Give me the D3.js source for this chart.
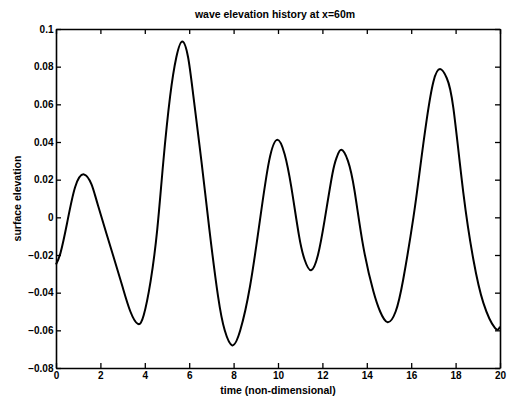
<!DOCTYPE html>
<html>
<head>
<meta charset="utf-8">
<script src="https://cdn.jsdelivr.net/npm/d3@7"></script>
<style>
  body { margin: 0; background: #fff; }
  svg text { font-family: "Liberation Sans", Arial, sans-serif; font-weight: bold; fill: #000; }
</style>
</head>
<body>
<div id="chart"></div>
<script>
// wave elevation samples
const times = [0, 0.2, 0.5, 0.86, 1.26, 1.6, 1.9, 2.58, 3.0, 3.35, 3.69, 3.95, 4.26, 4.56, 4.83, 5.14, 5.42, 5.69,
  5.95, 6.19, 6.56, 6.91, 7.3, 7.6, 7.94, 8.3, 8.74, 9.19, 9.6, 9.97, 10.3, 10.6, 10.95, 11.2, 11.49,
  11.8, 12.1, 12.45, 12.65, 12.85, 13.15, 13.45, 13.84, 14.29, 14.6, 14.94, 15.3, 15.64, 16.1, 16.4, 16.7, 17.0, 17.3,
  17.6, 17.9, 18.35, 18.8, 19.25, 19.77, 20];
const elevation = [-0.025, -0.019, -0.003, 0.016, 0.0228, 0.0175, 0.006, -0.0205, -0.037, -0.050, -0.0566, -0.052, -0.034, -0.0065, 0.029, 0.0642, 0.085, 0.0934,
  0.085, 0.0642, 0.0289, -0.0065, -0.042, -0.060, -0.068, -0.060, -0.0366, -0.0012, 0.030, 0.0412, 0.0335, 0.016, -0.010, -0.0225, -0.0281,
  -0.020, -0.0015, 0.023, 0.032, 0.0359, 0.030, 0.014, -0.0154, -0.039, -0.050, -0.0557, -0.050, -0.033, 0.000, 0.026, 0.052, 0.072, 0.0787,
  0.074, 0.058, 0.0129, -0.0224, -0.0454, -0.0587, -0.058];
const xTicks = [0, 2, 4, 6, 8, 10, 12, 14, 16, 18, 20];
const yTicks = [-0.08, -0.06, -0.04, -0.02, 0, 0.02, 0.04, 0.06, 0.08, 0.1];

const width = 519, height = 399;
const margin = { top: 29, right: 19, bottom: 31, left: 56 };

const svg = d3.select('#chart').append('svg')
  .attr('width', width)
  .attr('height', height);

const x = d3.scaleLinear().domain([0, 20]).range([margin.left, width - margin.right]);
const y = d3.scaleLinear().domain([-0.08, 0.1]).range([height - margin.bottom, margin.top]);

const yFmt = d => d === 0 ? '0' : d3.format('.2~f')(d);

// axes with inward ticks, box style
const tick = 5;
svg.append('g')
  .attr('transform', `translate(0,${y(-0.08)})`)
  .call(d3.axisBottom(x).tickValues(xTicks).tickSizeInner(-tick).tickSizeOuter(0).tickPadding(4))
  .call(g => g.selectAll('text').attr('font-size', 10));
svg.append('g')
  .attr('transform', `translate(0,${y(0.1)})`)
  .call(d3.axisTop(x).tickValues(xTicks).tickSizeInner(-tick).tickSizeOuter(0).tickFormat(''));
svg.append('g')
  .attr('transform', `translate(${x(0)},0)`)
  .call(d3.axisLeft(y).tickValues(yTicks).tickFormat(yFmt).tickSizeInner(-tick).tickSizeOuter(0).tickPadding(1))
  .call(g => g.selectAll('text').attr('font-size', 10).attr('dx', '-0.15em'));
svg.append('g')
  .attr('transform', `translate(${x(20)},0)`)
  .call(d3.axisRight(y).tickValues(yTicks).tickSizeInner(-tick).tickSizeOuter(0).tickFormat(''));

svg.selectAll('.domain').attr('stroke', '#000').attr('stroke-width', 1.6);
svg.selectAll('.tick line').attr('stroke', '#000').attr('stroke-width', 1.3);

// the elevation curve
const pts = times.map((t, i) => [t, elevation[i]]);
svg.append('path')
  .datum(pts)
  .attr('fill', 'none')
  .attr('stroke', '#000')
  .attr('stroke-width', 2)
  .attr('d', d3.line().x(d => x(d[0])).y(d => y(d[1])).curve(d3.curveNatural));

// titles
svg.append('text')
  .attr('x', (x(0) + x(20)) / 2 - 3)
  .attr('y', 18)
  .attr('text-anchor', 'middle')
  .attr('font-size', 10.5)
  .text('wave elevation history at x=60m');

svg.append('text')
  .attr('x', (x(0) + x(20)) / 2)
  .attr('y', 394)
  .attr('text-anchor', 'middle')
  .attr('font-size', 10.5)
  .text('time (non-dimensional)');

svg.append('text')
  .attr('transform', `translate(21,${(y(0.1) + y(-0.08)) / 2}) rotate(-90)`)
  .attr('text-anchor', 'middle')
  .attr('font-size', 10.5)
  .text('surface elevation');
</script>
</body>
</html>
